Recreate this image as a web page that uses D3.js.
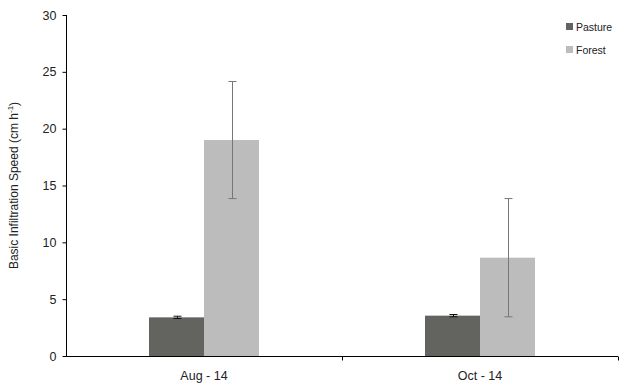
<!DOCTYPE html>
<html><head><meta charset="utf-8">
<script src="https://cdn.jsdelivr.net/npm/d3@7"></script>
<style>body{margin:0;background:#fff}svg{display:block}text{font-family:"Liberation Sans",Arial,sans-serif}</style>
</head><body><svg id="c" width="628" height="386"></svg>
<script>
const categories = ["Aug - 14", "Oct - 14"];
const seriesNames = ["Pasture", "Forest"];
const pastureValues = [3.4, 3.55];
const pastureErrors = [0.1, 0.1];
const forestValues = [19.0, 8.65];
const forestErrors = [5.15, 5.2];
const yTicks = [0, 5, 10, 15, 20, 25, 30];
const colors = ["#63645f", "#bcbcbc"];
const errColors = ["#111", "#777"];

(function(){
const svg = d3.select("#c");
const mLeft = 66, mRight = 618, mTop = 15, mBottom = 356;
const x = d3.scaleBand().domain(categories).range([mLeft, mRight]).paddingInner(0).paddingOuter(0);
const x1 = d3.scaleBand().domain(seriesNames).range([0, 110]);
const y = d3.scaleLinear().domain([0, 30]).range([mBottom, mTop]);

const series = [
  {name: "Pasture", values: pastureValues, errors: pastureErrors},
  {name: "Forest", values: forestValues, errors: forestErrors}
];

series.forEach((s, si) => {
  const g = svg.append("g");
  categories.forEach((c, ci) => {
    const bx = x(c) + x.bandwidth()/2 - 55 + x1(s.name);
    g.append("rect").attr("x", bx).attr("width", x1.bandwidth())
      .attr("y", y(s.values[ci])).attr("height", y(0) - y(s.values[ci]))
      .attr("fill", colors[si]);
  });
});
series.forEach((s, si) => {
  categories.forEach((c, ci) => {
    const cx = Math.round(x(c) + x.bandwidth()/2 - 55 + x1(s.name) + x1.bandwidth()/2) + 0.5;
    const hi = y(s.values[ci] + s.errors[ci]), lo = y(s.values[ci] - s.errors[ci]);
    const col = errColors[si];
    svg.append("line").attr("x1", cx).attr("x2", cx).attr("y1", hi).attr("y2", lo).attr("stroke", col).attr("stroke-width", 1);
    [hi, lo].forEach(yy => svg.append("line").attr("x1", cx-4).attr("x2", cx+4).attr("y1", yy).attr("y2", yy).attr("stroke", col).attr("stroke-width", 1));
  });
});

// y axis
const ya = svg.append("g").attr("transform", `translate(${mLeft+0.5},0)`)
  .call(d3.axisLeft(y).tickValues(yTicks).tickSize(4).tickPadding(6));
ya.selectAll("text").attr("font-size", 12.5).attr("fill", "#222");
ya.selectAll("line,path").attr("stroke", "#000");
ya.select(".domain").attr("d", `M0,${mTop}V${mBottom}`);

// x axis
const xa = svg.append("g").attr("transform", `translate(0,${mBottom+0.5})`);
xa.append("line").attr("x1", mLeft).attr("x2", mRight).attr("y1", 0).attr("y2", 0).attr("stroke", "#000");
[x(categories[1]), mRight].forEach(t => xa.append("line").attr("x1", t+0.5).attr("x2", t+0.5).attr("y1", 0).attr("y2", 4).attr("stroke", "#000"));
categories.forEach(c => xa.append("text").attr("x", x(c) + x.bandwidth()/2).attr("y", 23)
  .attr("text-anchor", "middle").attr("font-size", 12.5).attr("fill", "#222").text(c));

// y title
const yt = svg.append("text").attr("transform", `translate(18,${(mTop+mBottom)/2}) rotate(-90)`)
  .attr("text-anchor", "middle").attr("font-size", 12).attr("fill", "#222");
yt.append("tspan").text("Basic Infiltration Speed (cm h");
yt.append("tspan").attr("font-size", 8).attr("dy", -5).text("-1");
yt.append("tspan").attr("dy", 5).text(")");

// legend
seriesNames.forEach((n, i) => {
  const ly = 27 + i * 23;
  svg.append("rect").attr("x", 566).attr("y", ly - 4).attr("width", 7).attr("height", 7).attr("fill", colors[i]);
  svg.append("text").attr("x", 576).attr("y", ly + 4).attr("font-size", 10.5).attr("fill", "#222").text(n);
});
})();
</script></body></html>
